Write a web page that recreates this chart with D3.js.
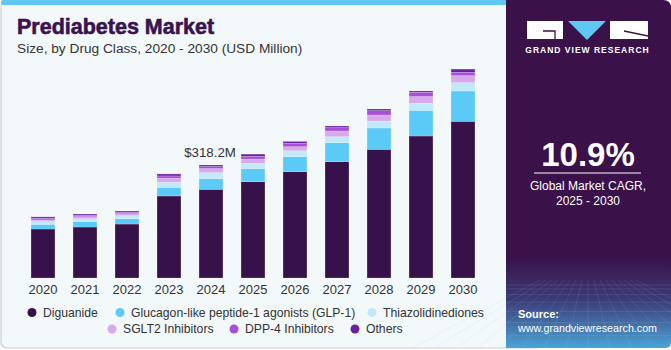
<!DOCTYPE html>
<html>
<head>
<meta charset="utf-8">
<script src="https://cdn.jsdelivr.net/npm/d3@7"></script>
<style>
  body { margin: 0; background: #fff; }
  svg { display: block; font-family: "Liberation Sans", Arial, sans-serif; }
</style>
</head>
<body>
<div id="chart"></div>
<script>
const years = ["2020", "2021", "2022", "2023", "2024", "2025", "2026", "2027", "2028", "2029", "2030"];
const seriesNames = ["Diguanide", "Glucagon-like peptide-1 agonists (GLP-1)", "Thiazolidinediones",
  "SGLT2 Inhibitors", "DPP-4 Inhibitors", "Others"];
const diguanide = [138.0, 143.6, 152.0, 231.0, 249.8, 271.2, 299.3, 327.5, 362.4, 399.9, 441.3];
const glp1 = [13.2, 15.0, 15.0, 24.5, 30.1, 36.6, 42.2, 53.5, 60.0, 72.4, 85.3];
const thiazolidinediones = [7.6, 8.4, 8.4, 14.1, 16.9, 14.9, 16.9, 16.9, 19.7, 19.7, 23.4];
const sglt2 = [4.8, 5.6, 5.6, 11.3, 11.3, 12.1, 11.3, 16.0, 16.9, 18.9, 19.7];
const dpp4 = [4.8, 4.2, 4.2, 6.5, 5.6, 7.6, 9.3, 9.3, 12.1, 12.1, 9.3];
const others = [3.7, 3.4, 3.4, 5.6, 4.5, 6.5, 5.6, 4.8, 4.8, 3.7, 9.3];
const colors = ["#371149", "#5bcaf7", "#c0e9fa", "#d6a9ec", "#a74fd8", "#6b20a0"];
const annotation = { year: "2024", label: "$318.2M" };

const W = 671, H = 350;
const svg = d3.select("#chart").append("svg").attr("width", W).attr("height", H);

// card background
svg.append("rect").attr("x", 1).attr("y", 1).attr("width", 540).attr("height", 347)
  .attr("rx", 6).attr("fill", "#f3f8fb").attr("stroke", "#c9cdd1").attr("stroke-width", 1.2);
svg.append("rect").attr("x", 1).attr("y", 0).attr("width", 530).attr("height", 5)
  .attr("rx", 2).attr("fill", "#5ec8f2");

// right panel
const defs = svg.append("defs");
const grad = defs.append("linearGradient").attr("id", "pg").attr("x1", 0).attr("y1", 0).attr("x2", 0).attr("y2", 1);
grad.append("stop").attr("offset", "0%").attr("stop-color", "#3a1149");
grad.append("stop").attr("offset", "74%").attr("stop-color", "#3a1149");
grad.append("stop").attr("offset", "86%").attr("stop-color", "#3c3a76");
grad.append("stop").attr("offset", "100%").attr("stop-color", "#4aa3d6");
svg.append("path")
  .attr("d", "M506,0 H663 Q671,0 671,8 V342 Q671,348 665,348 H506 Z")
  .attr("fill", "url(#pg)");

// faint grid in panel bottom
const gridG = svg.append("g").attr("stroke", "#9fc7ea").attr("stroke-opacity", 0.22).attr("stroke-width", 0.6);
d3.range(0, 9).forEach(i => {
  const yy = 285 + i * i * 0.9 + i * 3;
  gridG.append("line").attr("x1", 506).attr("x2", 671).attr("y1", yy).attr("y2", yy);
});
d3.range(-8, 9).forEach(i => {
  gridG.append("line").attr("x1", 588 + i * 6).attr("y1", 280).attr("x2", 588 + i * 22).attr("y2", 348);
});

// logo
const logo = svg.append("g");
logo.append("rect").attr("x", 527).attr("y", 21).attr("width", 36).attr("height", 18).attr("fill", "#fff");
logo.append("path").attr("d", "M543,31 H555 V39").attr("fill", "none").attr("stroke", "#3a1149").attr("stroke-width", 1.3);
logo.append("path").attr("d", "M568,21 H606 L587,40 Z").attr("fill", "#5ec8f2");
logo.append("rect").attr("x", 610).attr("y", 21).attr("width", 38).attr("height", 18).attr("fill", "#fff");
logo.append("path").attr("d", "M624,31 L648,36").attr("stroke", "#3a1149").attr("stroke-width", 1.3);
svg.append("text").attr("x", 587.5).attr("y", 53).attr("text-anchor", "middle")
  .attr("fill", "#fff").attr("font-size", 8.5).attr("font-weight", "bold").attr("letter-spacing", 1)
  .text("GRAND VIEW RESEARCH");

svg.append("text").attr("x", 588).attr("y", 166).attr("text-anchor", "middle")
  .attr("fill", "#fff").attr("font-size", 33).attr("font-weight", "bold").text("10.9%");
svg.append("line").attr("x1", 534).attr("x2", 641).attr("y1", 173).attr("y2", 173)
  .attr("stroke", "#fff").attr("stroke-width", 1);
svg.append("text").attr("x", 588).attr("y", 190).attr("text-anchor", "middle")
  .attr("fill", "#fff").attr("font-size", 12).text("Global Market CAGR,");
svg.append("text").attr("x", 588).attr("y", 205).attr("text-anchor", "middle")
  .attr("fill", "#fff").attr("font-size", 12).text("2025 - 2030");
svg.append("text").attr("x", 518).attr("y", 318).attr("fill", "#fff")
  .attr("font-size", 11).attr("font-weight", "bold").text("Source:");
svg.append("text").attr("x", 518).attr("y", 332).attr("fill", "#fff")
  .attr("font-size", 10.7).text("www.grandviewresearch.com");

// titles
svg.append("text").attr("x", 17).attr("y", 34).attr("fill", "#3a1350")
  .attr("stroke", "#3a1350").attr("stroke-width", 0.6)
  .attr("font-size", 21.5).attr("font-weight", "bold")
  .text("Prediabetes Market");
svg.append("text").attr("x", 17).attr("y", 53).attr("fill", "#333")
  .attr("font-size", 13.7).text("Size, by Drug Class, 2020 - 2030 (USD Million)");

// chart
const x = d3.scaleBand().domain(years).range([22, 484]).paddingInner(0.43).paddingOuter(0.215);
const y = d3.scaleLinear().domain([0, 600]).range([278, 278 - 600 / 2.816]);

const table = years.map((yr, i) => ({
  year: yr,
  s0: diguanide[i], s1: glp1[i], s2: thiazolidinediones[i],
  s3: sglt2[i], s4: dpp4[i], s5: others[i]
}));
const keys = ["s0", "s1", "s2", "s3", "s4", "s5"];
const stacked = d3.stack().keys(keys)(table);

svg.append("g").selectAll("g")
  .data(stacked)
  .enter().append("g")
  .attr("fill", (d, i) => colors[i])
  .selectAll("rect")
  .data(d => d)
  .enter().append("rect")
  .attr("x", d => x(d.data.year))
  .attr("y", d => y(d[1]))
  .attr("width", x.bandwidth())
  .attr("height", d => y(d[0]) - y(d[1]))
  .attr("stroke", "#ffffff")
  .attr("stroke-opacity", 0.35)
  .attr("stroke-width", 0.6);

// x axis labels
const xAxis = d3.axisBottom(x).tickSize(0).tickPadding(7);
const gx = svg.append("g").attr("transform", "translate(0,278)").call(xAxis);
gx.select(".domain").remove();
gx.selectAll("text").attr("font-size", 13).attr("fill", "#333")
  .attr("font-family", "'Liberation Sans', Arial, sans-serif");

// annotation
const annIdx = years.indexOf(annotation.year);
const annTotal = d3.sum([diguanide, glp1, thiazolidinediones, sglt2, dpp4, others], s => s[annIdx]);
svg.append("text").attr("x", x(annotation.year) + x.bandwidth() / 2 - 1).attr("y", y(annTotal) - 8)
  .attr("text-anchor", "middle").attr("fill", "#333").attr("font-size", 13.3).text(annotation.label);

// legend
const legendPos = [
  { cx: 32, cy: 312.5 }, { cx: 120, cy: 312.5 }, { cx: 372, cy: 312.5 },
  { cx: 112, cy: 329 }, { cx: 234, cy: 329 }, { cx: 355, cy: 329 }
];
const legend = svg.append("g");
legend.selectAll("circle").data(seriesNames).enter().append("circle")
  .attr("cx", (d, i) => legendPos[i].cx).attr("cy", (d, i) => legendPos[i].cy)
  .attr("r", 4.5).attr("fill", (d, i) => colors[i]);
legend.selectAll("text").data(seriesNames).enter().append("text")
  .attr("x", (d, i) => legendPos[i].cx + 11).attr("y", (d, i) => legendPos[i].cy + 4.3)
  .attr("font-size", 12.2).attr("fill", "#333").text(d => d);
</script>
</body>
</html>
